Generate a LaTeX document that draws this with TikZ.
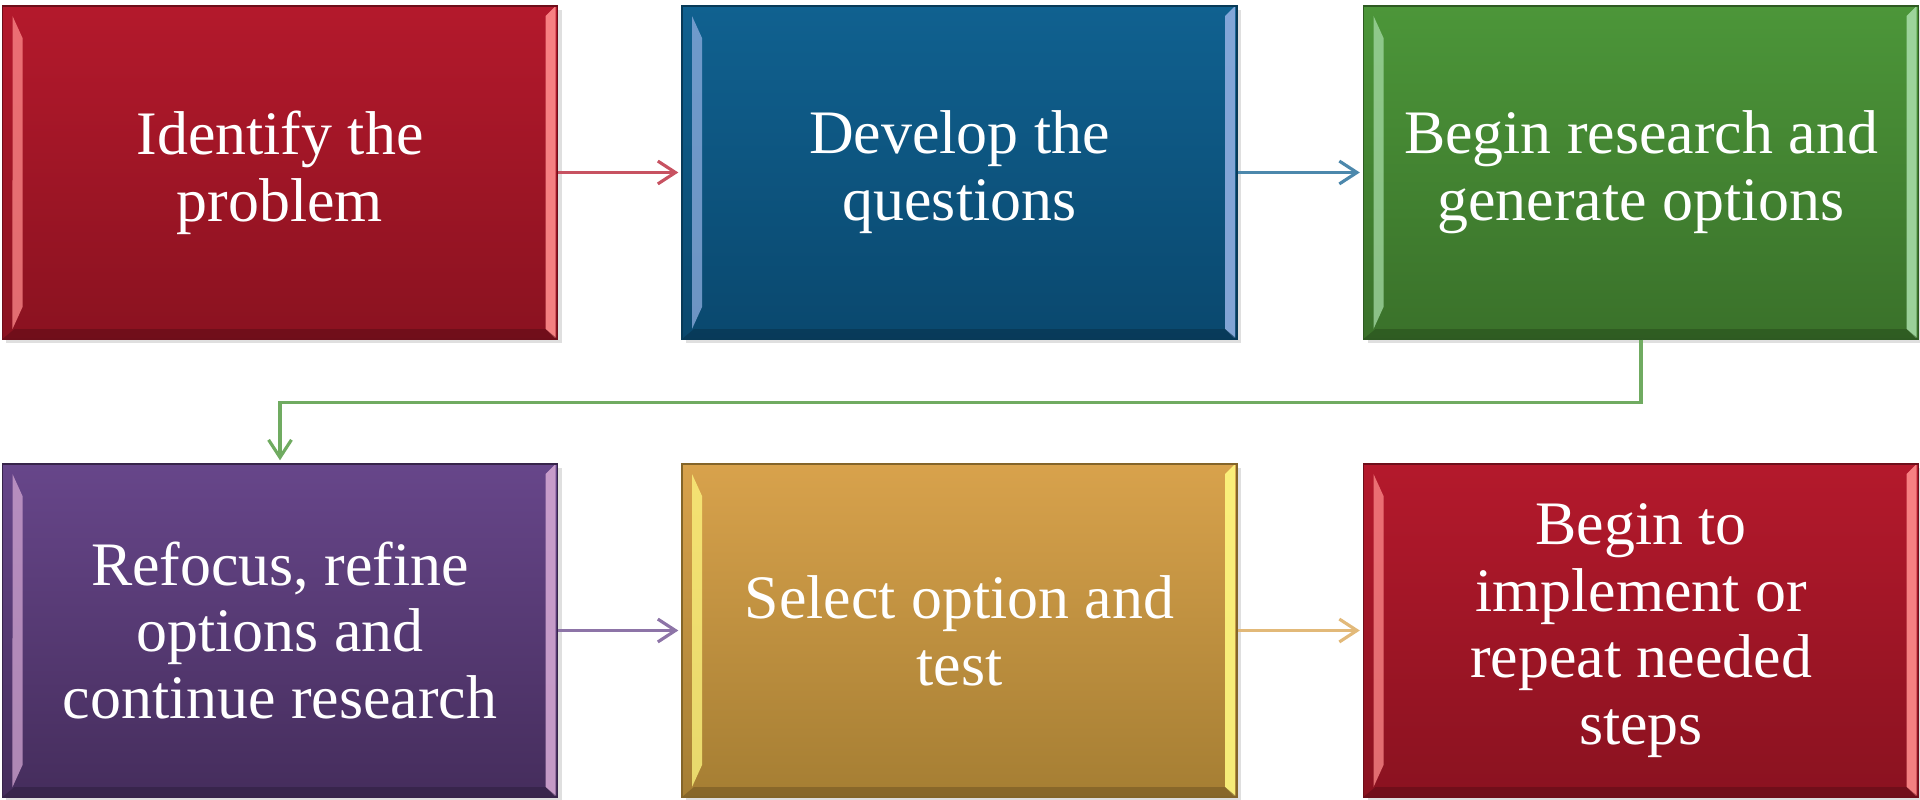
\documentclass[tikz,border=0pt]{standalone}
\usepackage{fontspec}
\setmainfont{Liberation Serif}
\usepackage{tikz}
\usetikzlibrary{shadows,arrows.meta}

\definecolor{redtop}{HTML}{B4192C}
\definecolor{redbot}{HTML}{8A1220}
\definecolor{bluetop}{HTML}{106190}
\definecolor{bluebot}{HTML}{0A486E}
\definecolor{greentop}{HTML}{4C9639}
\definecolor{greenbot}{HTML}{3A712A}
\definecolor{purptop}{HTML}{67468A}
\definecolor{purpbot}{HTML}{452D5C}
\definecolor{goldtop}{HTML}{D8A24C}
\definecolor{goldbot}{HTML}{A57E33}

\tikzset{
  stepbox/.style n args={3}{rectangle, minimum width=5.55cm, minimum height=3.33cm,
    align=center, text=white, font=\fontsize{17.6}{19}\selectfont,
    top color=#1, bottom color=#2, draw=#2!80!black, line width=0.4pt,
    drop shadow={opacity=0.25, shadow xshift=0.04cm, shadow yshift=-0.04cm},
    path picture={
      % bevel: light strips on the sides, darker bottom
      \fill[#3, opacity=0.75] ([xshift=0.1cm,yshift=-0.1cm]path picture bounding box.north west)
        -- ++(0.1,-0.22) -- ([xshift=0.2cm,yshift=0.32cm]path picture bounding box.south west)
        -- ++(-0.1,-0.22) -- cycle;
      \fill[#3, opacity=0.9] ([xshift=-0.02cm]path picture bounding box.north east)
        -- ++(-0.1,-0.1) -- ([xshift=-0.12cm,yshift=0.1cm]path picture bounding box.south east)
        -- ++(0.1,-0.1) -- cycle;
      \fill[#2!70!black, opacity=0.6] (path picture bounding box.south west)
        -- ++(0.12,0.1) -- ([xshift=-0.12cm,yshift=0.1cm]path picture bounding box.south east)
        -- ++(0.12,-0.1) -- cycle;
    }},
  flow/.style={-{Straight Barb[length=5pt,width=6.5pt,line width=0.9pt]}, line width=0.9pt, shorten >=0.03cm}
}

\begin{document}
\begin{tikzpicture}
\useasboundingbox (0,0) rectangle (19.2,7.99);

\node[stepbox={redtop}{redbot}{red!45!white}] (ident) at (2.80,6.265) {Identify the\\problem};
\node[stepbox={bluetop}{bluebot}{cyan!50!blue!45!white}] (devel) at (9.595,6.265) {Develop the\\questions};
\node[stepbox={greentop}{greenbot}{green!60!black!35!white}] (begin) at (16.41,6.265) {Begin research and\\generate options};

\node[stepbox={purptop}{purpbot}{violet!35!white}] (refoc) at (2.80,1.685) {Refocus, refine\\options and\\continue research};
\node[stepbox={goldtop}{goldbot}{yellow!50!white}] (selec) at (9.595,1.685) {Select option and\\test};
\node[stepbox={redtop}{redbot}{red!45!white}] (impl) at (16.41,1.685) {Begin to\\implement or\\repeat needed\\steps};

\draw[flow, color=redtop!75!white] (ident) -- (devel);
\draw[flow, color=bluetop!75!white] (devel) -- (begin);
\draw[flow, color=greentop!80!white] (begin.south) -- ++(0,-0.63) -| (refoc.north);
\draw[flow, color=purptop!75!white] (refoc) -- (selec);
\draw[flow, color=goldtop!75!white] (selec) -- (impl);

\end{tikzpicture}
\end{document}
